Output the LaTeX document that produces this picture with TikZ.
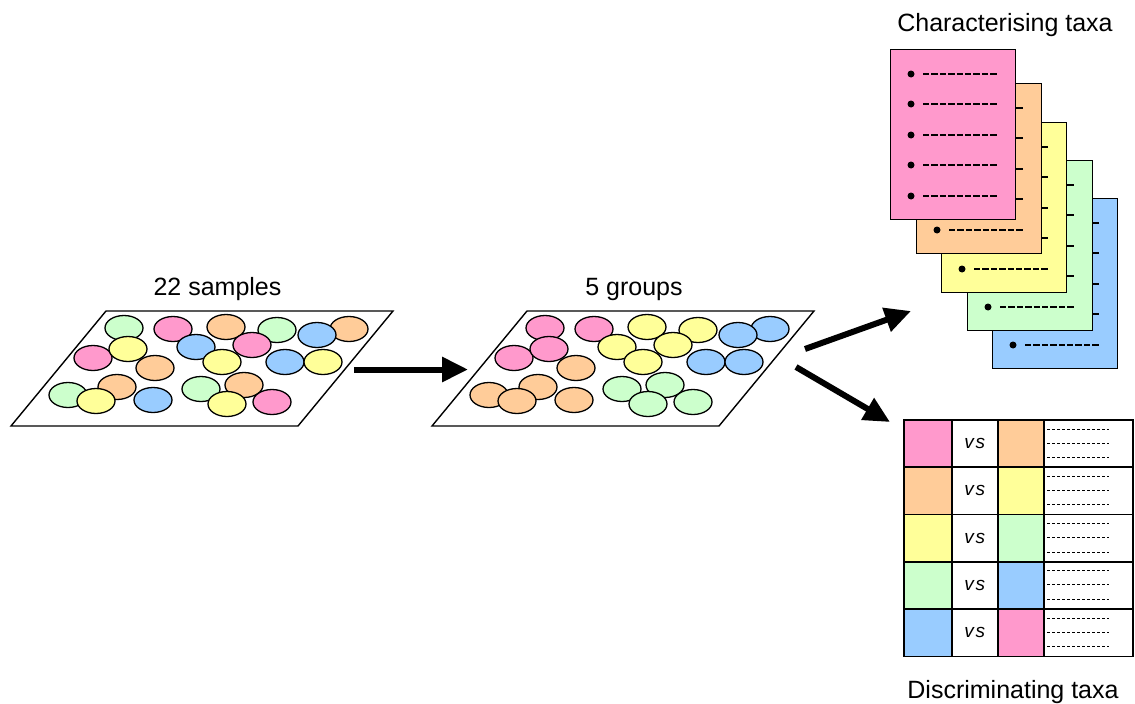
\documentclass[tikz,border=0pt]{standalone}
\usepackage{fontspec}
\setmainfont{Liberation Sans}
\usetikzlibrary{arrows.meta,shapes.geometric}
\definecolor{cpink}{HTML}{FF99CC}
\definecolor{corange}{HTML}{FFCC99}
\definecolor{cyellow}{HTML}{FFFF99}
\definecolor{cgreen}{HTML}{CCFFCC}
\definecolor{cblue}{HTML}{99CCFF}
\tikzset{
  blob/.style={ellipse, draw, line width=1.3pt, minimum width=38pt, minimum height=25pt, inner sep=0pt},
  plate/.style={draw, line width=1.4pt, line join=miter},
  bigarrow/.style={line width=6pt, -{Triangle[length=26pt,width=24pt]}},
  page/.style={rectangle, draw, line width=1.4pt, minimum width=125pt, minimum height=170pt, inner sep=0pt, anchor=north west},
  pagedash/.style={line width=2pt, dash pattern=on 6.3pt off 2.1pt},
  cell/.style={rectangle, draw, line width=1.6pt, minimum height=47.3pt, inner sep=0pt, anchor=north west},
  celldash/.style={line width=1pt, dash pattern=on 3.3pt off 1.7pt},
  lbl/.style={font=\fontsize{25}{30}\selectfont, inner sep=0pt, anchor=base},
  vslbl/.style={font=\fontsize{19}{21}\selectfont\itshape, inner sep=0pt}
}
\begin{document}
\begin{tikzpicture}[x=1pt,y=-1pt]
\useasboundingbox (0,0) rectangle (1135,704);

% plates
\draw[plate] (106,311) -- (393,311) -- (298,426) -- (11,426) -- cycle;
\draw[plate] (527,311) -- (814,311) -- (719,426) -- (432,426) -- cycle;

% samples (left) and groups (middle)
\foreach \x/\y/\cl/\cm [count=\i] in {
  124/328/cgreen/cpink, 173/329/cpink/cpink, 226/327/corange/cyellow,
  277/330/cgreen/cyellow, 349/329/corange/cblue, 317/335/cblue/cblue,
  196/347/cblue/cyellow, 252/345/cpink/cyellow, 93/358/cpink/cpink,
  128/349/cyellow/cpink, 155/368/corange/corange, 222/362/cyellow/cyellow,
  285/362/cblue/cblue, 323/362/cyellow/cblue, 68/395/cgreen/corange,
  117/387/corange/corange, 96/401/cyellow/corange, 153/400/cblue/corange,
  201/389/cgreen/cgreen, 244/385/corange/cgreen, 227/404/cyellow/cgreen,
  272/402/cpink/cgreen}
{
  \node[blob, fill=\cl] (L\i) at (\x,\y) {};
  \node[blob, fill=\cm] (M\i) at (\x+421,\y) {};
}

% labels
\node[lbl] (lab1) at (217.5,295) {22 samples};
\node[lbl] (lab2) at (634,295) {5 groups};
\node[lbl] (lab3) at (1005,31.5) {Characterising taxa};
\node[lbl] (lab4) at (1013,698) {Discriminating taxa};

% pages
\foreach \px/\py/\cl [count=\k] in {992/198/cblue, 967/160/cgreen, 941/122/cyellow, 916/83/corange, 890/49/cpink}
{
  \node[page, fill=\cl] (pg\k) at (\px,\py) {};
  \foreach \oy in {25,55,86,116,147}
  {
    \fill (\px+21,\py+\oy) circle[radius=3.5pt];
    \draw[pagedash] (\px+33,\py+\oy) -- (\px+107,\py+\oy);
  }
}

% table
\foreach \ca/\cb [count=\r] in {cpink/corange, corange/cyellow, cyellow/cgreen, cgreen/cblue, cblue/cpink}
{
  \pgfmathsetmacro\ty{419+47.3*(\r-1)}
  \node[cell, fill=\ca, minimum width=48pt] (ta\r) at (903,\ty) {};
  \node[cell, fill=white, minimum width=46pt] (tb\r) at (951,\ty) {};
  \node[cell, fill=\cb, minimum width=46pt] (tc\r) at (997,\ty) {};
  \node[cell, fill=white, minimum width=89pt] (td\r) at (1043,\ty) {};
  \node[vslbl] (vs\r) at (tb\r.center) {v\kern1.8pt s};
  \foreach \oy in {10,24,38.5}
    \draw[celldash] (1047,\ty+\oy) -- (1109,\ty+\oy);
}

% arrows
\coordinate (p1e) at (354,369.5);
\coordinate (p2w) at (468,369.5);
\coordinate (p2ne) at (805,349);
\coordinate (pgin) at (911,311);
\coordinate (p2se) at (796,367);
\coordinate (tbin) at (890,422);
\draw[bigarrow] (p1e) -- (p2w);
\draw[bigarrow] (p2ne) -- (pgin);
\draw[bigarrow] (p2se) -- (tbin);
\end{tikzpicture}
\end{document}
